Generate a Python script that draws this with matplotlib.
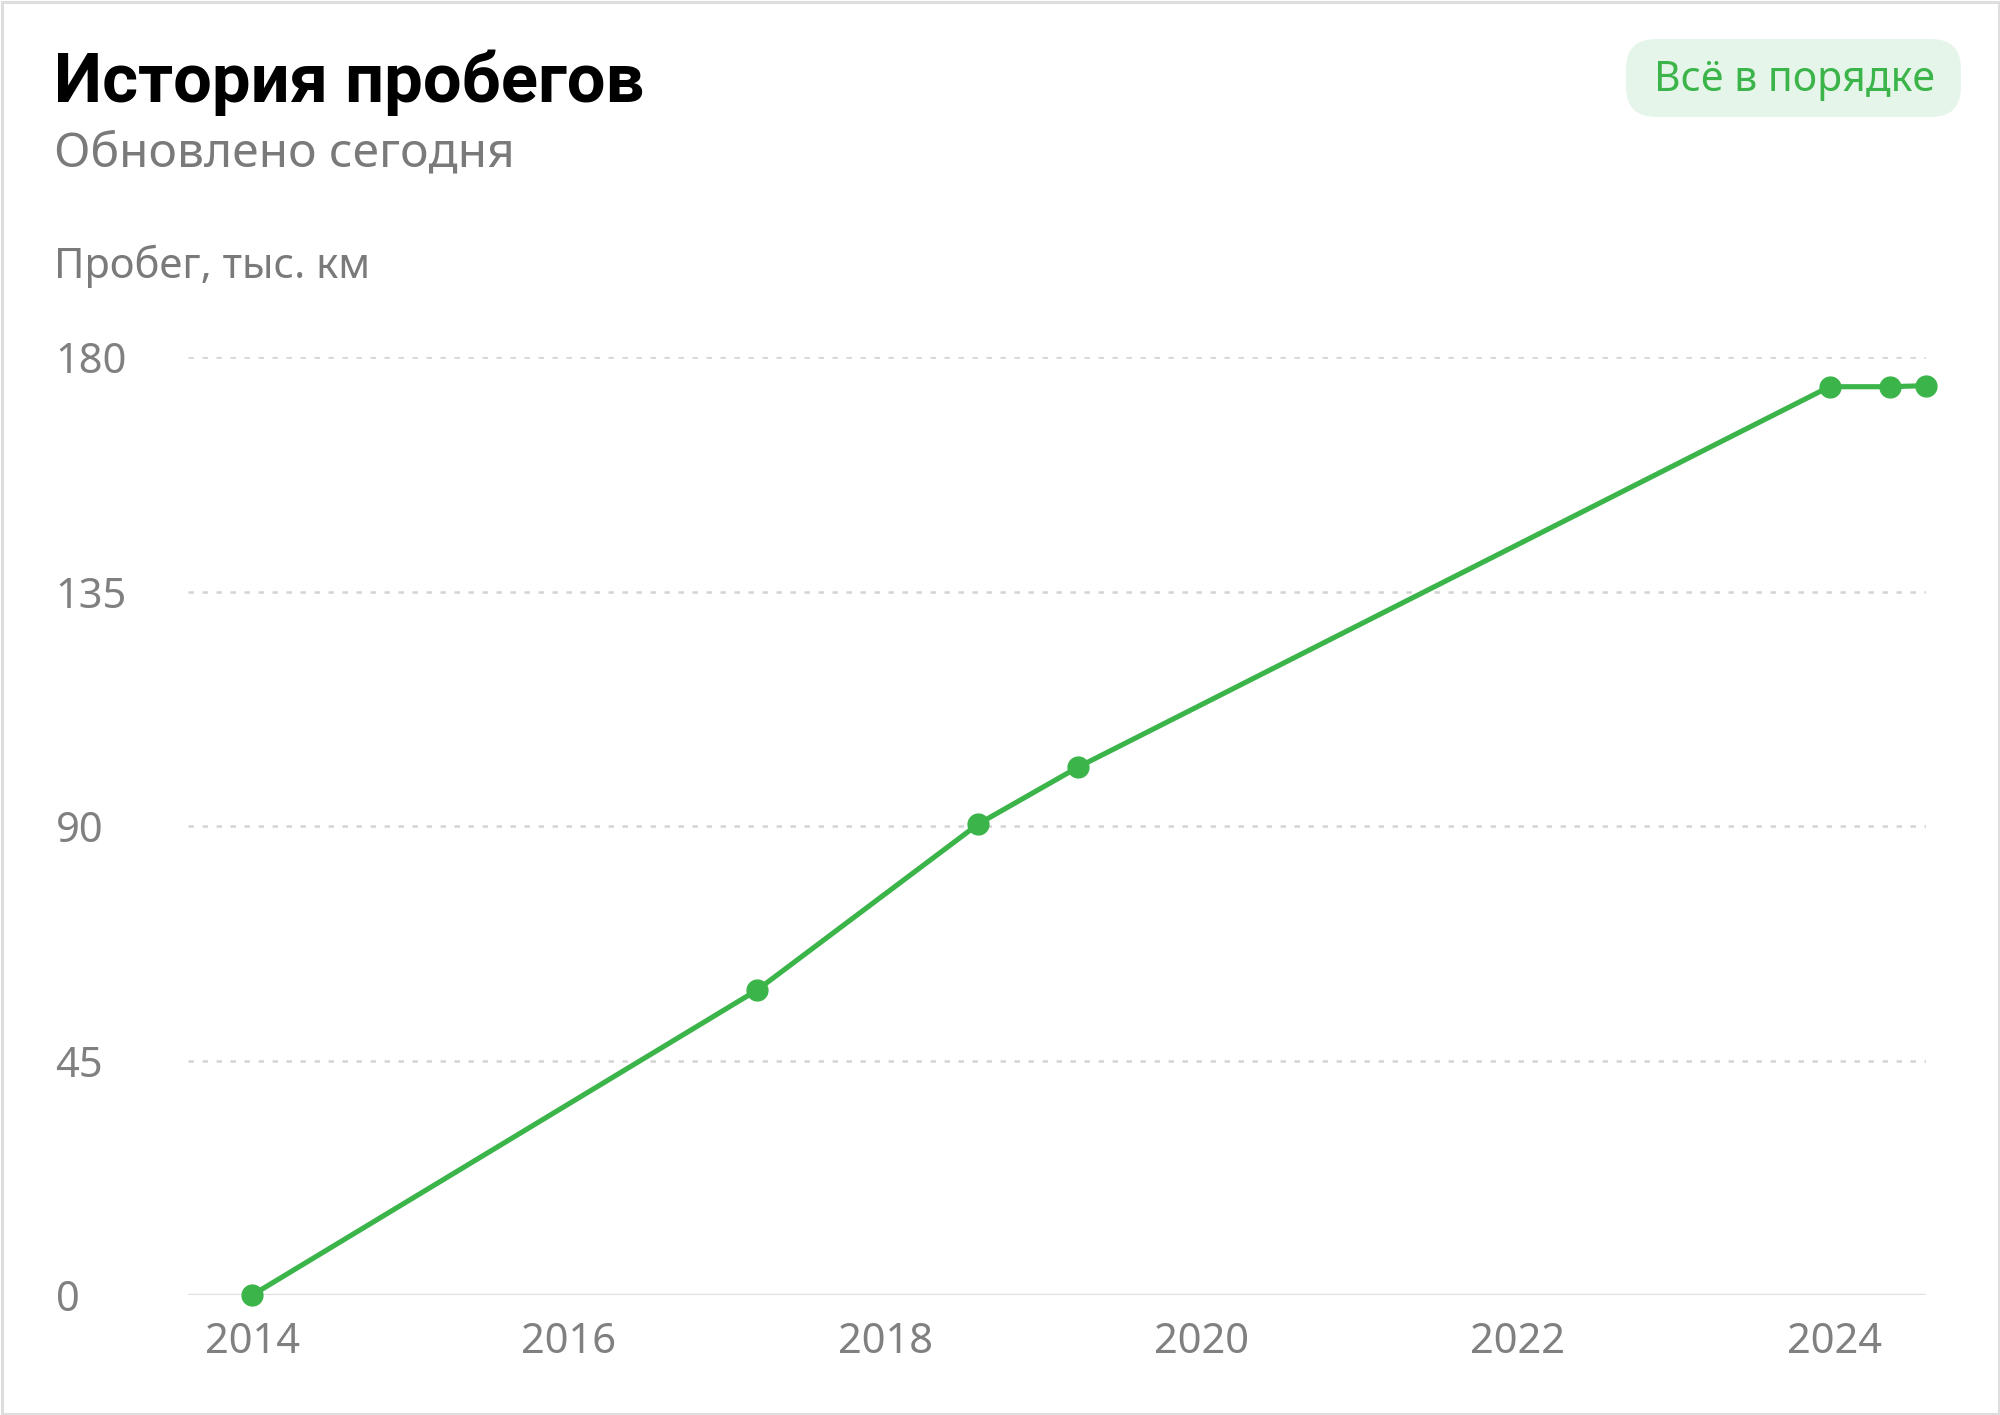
import matplotlib
matplotlib.use("Agg")
import matplotlib.pyplot as plt
from matplotlib.patches import FancyBboxPatch, Rectangle

plt.rcParams["font.family"] = ["Noto Sans", "DejaVu Sans"]

# Mileage history (decimal years, thousand km)
years = [2014.0, 2017.19, 2018.59, 2019.22, 2023.97, 2024.35, 2024.58]
mileage = [0, 58.5, 90.4, 101.3, 174.3, 174.3, 174.5]

y_ticks = [0, 45, 90, 135, 180]
x_ticks = [2014, 2016, 2018, 2020, 2022, 2024]

title = "История пробегов"
subtitle = "Обновлено сегодня"
y_label = "Пробег, тыс. км"
badge_text = "Всё в порядке"

green = "#3bb44a"
gray_text = "#808080"

fig = plt.figure(figsize=(20, 14.15), dpi=100)
fig.patch.set_facecolor("white")

ax = fig.add_axes([0.09375, 0.0848, 0.963 - 0.09375, 0.7477 - 0.0848])
ax.plot(years, mileage, color=green, lw=3.7, marker="o", markersize=15,
        clip_on=False, zorder=3)

ax.set_xlim(2013.59, 2024.58)
ax.set_ylim(0, 180)
ax.set_yticks(y_ticks)
ax.set_yticklabels([str(v) for v in y_ticks])
ax.set_xticks(x_ticks)
ax.set_xticklabels([str(v) for v in x_ticks])

for s in ax.spines.values():
    s.set_visible(False)
ax.tick_params(axis="both", length=0, labelsize=30, labelcolor=gray_text)
ax.tick_params(axis="y", pad=95)
ax.tick_params(axis="x", pad=19)
for lbl in ax.get_yticklabels():
    lbl.set_horizontalalignment("left")

ax.yaxis.grid(True, color="#d4d4d4", lw=1.8, linestyle=(0, (2.2, 3.4)))
ax.axhline(0, color="#e0e0e0", lw=2.4, zorder=1)
ax.set_axisbelow(True)

# headings
fig.text(0.027, 0.9279, title, fontsize=49.5, fontweight="bold", color="black",
         va="baseline", ha="left", family=["Roboto", "Open Sans", "DejaVu Sans"])
fig.text(0.027, 0.8827, subtitle, fontsize=34.5, color="#7a7a7a",
         va="baseline", ha="left")
fig.text(0.027, 0.8035, y_label, fontsize=30, color="#7a7a7a",
         va="baseline", ha="left")

# status badge
badge = FancyBboxPatch((16.26, 12.98), 3.35, 0.78,
                       boxstyle="round,pad=0,rounding_size=0.3",
                       transform=fig.dpi_scale_trans, facecolor="#e6f5e9",
                       edgecolor="none")
fig.patches.append(badge)
fig.text(17.94, 13.24, badge_text, transform=fig.dpi_scale_trans,
         fontsize=29.5, color=green, ha="center", va="baseline")

# card frame
frame = Rectangle((0.015, 0.015), 19.97, 14.12, transform=fig.dpi_scale_trans,
                  facecolor="none", edgecolor="#dedede", lw=2.2)
fig.patches.append(frame)

fig.savefig("out.png", dpi=100, facecolor="white")
